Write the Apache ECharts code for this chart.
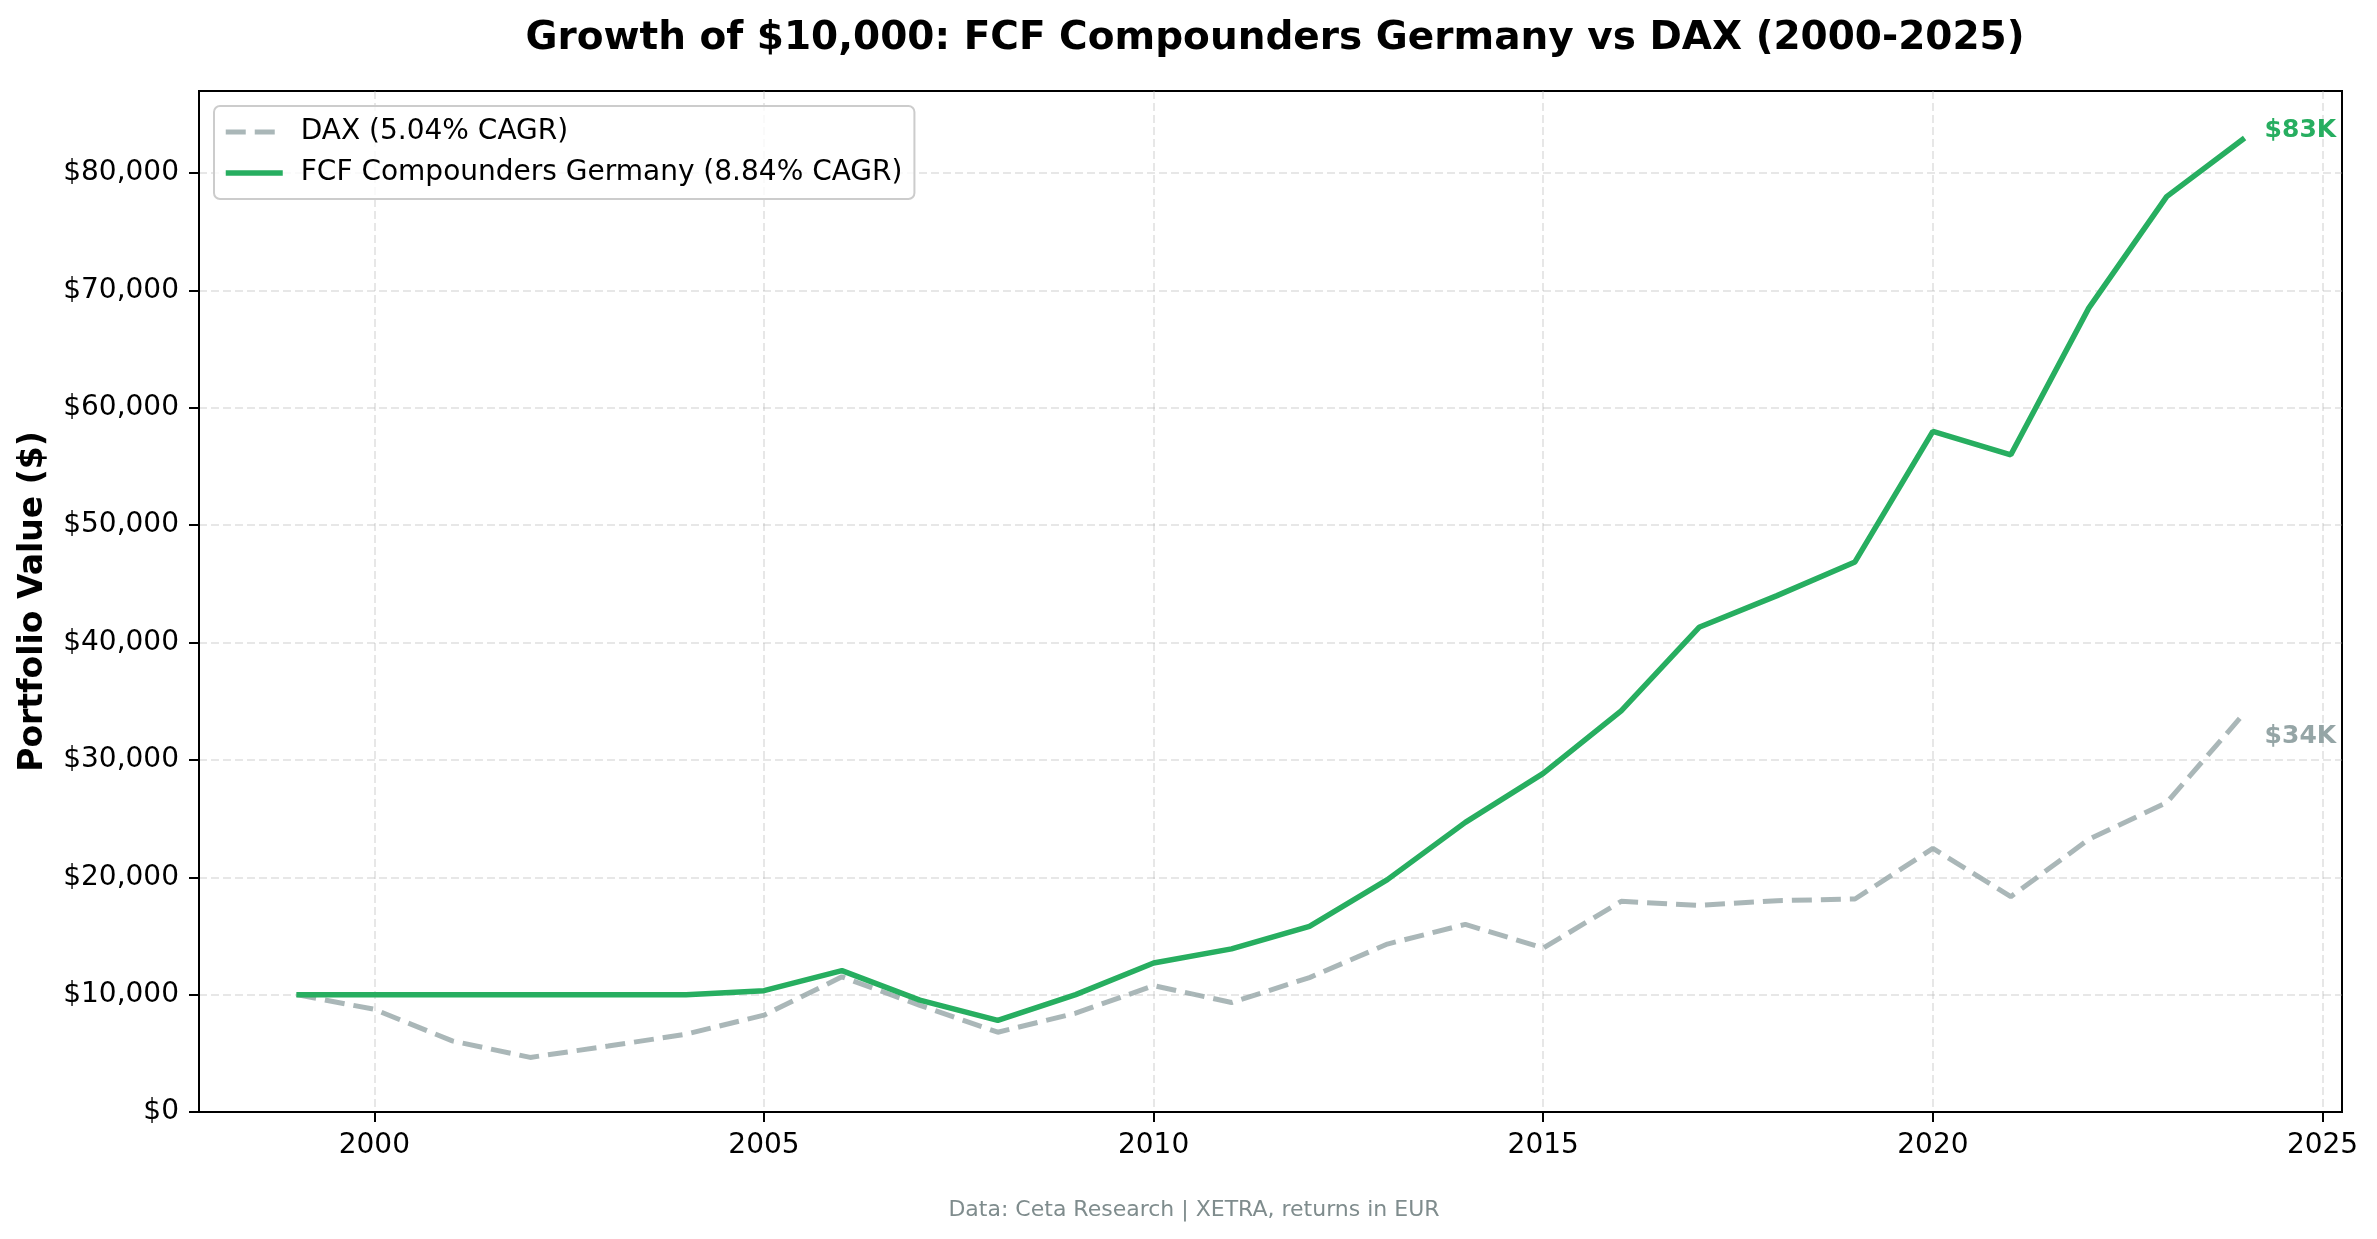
<!DOCTYPE html>
<html>
<head>
<meta charset="utf-8">
<script src="https://cdn.jsdelivr.net/npm/echarts@6/dist/echarts.min.js"></script>
<style>
  html, body { margin: 0; padding: 0; background: #fff; }
  #chart { width: 2377px; height: 1239px; }
</style>
</head>
<body>
<div id="chart"></div>
<script>
const years = [1999, 2000, 2001, 2002, 2003, 2004, 2005, 2006, 2007, 2008, 2009, 2010, 2011, 2012,
               2013, 2014, 2015, 2016, 2017, 2018, 2019, 2020, 2021, 2022, 2023, 2024];
const daxValues = [10000, 8750, 6060, 4650, 5620, 6630, 8250, 11520, 9090, 6800, 8420, 10770, 9330, 11450,
                   14310, 15990, 13970, 17950, 17610, 18010, 18150, 22460, 18350, 23230, 26360, 34010];
const fcfValues = [10000, 10000, 10000, 10000, 10000, 10000, 10340, 12050, 9530, 7810, 10000, 12690, 13900, 15820,
                   19800, 24680, 28860, 34180, 41300, 44000, 46870, 58000, 56000, 68500, 78000, 83000];
const xTicks = [2000, 2005, 2010, 2015, 2020, 2025];
const yTicks = [0, 10000, 20000, 30000, 40000, 50000, 60000, 70000, 80000];
const seriesNames = ['DAX (5.04% CAGR)', 'FCF Compounders Germany (8.84% CAGR)'];
const titleText = 'Growth of $10,000: FCF Compounders Germany vs DAX (2000-2025)';
const yAxisTitle = 'Portfolio Value ($)';
const footnote = 'Data: Ceta Research | XETRA, returns in EUR';

const FONT = 'DejaVu Sans';
const GREEN = '#27ae60';
const GRAY_LINE = 'rgba(149,165,166,0.8)';
const GRAY_LABEL = '#95a5a6';

const pairs = (vals) => years.map((y, i) => [y, vals[i]]);
const fmtK = (v) => '$' + Math.round(v / 1000) + 'K';
const fmtDollar = (v) => '$' + Number(v).toLocaleString('en-US');

const chart = echarts.init(document.getElementById('chart'), null, { renderer: 'canvas' });

const gridLine = { show: true, lineStyle: { color: 'rgba(176,176,176,0.3)', width: 2, type: [8, 4] } };

chart.setOption({
  animation: false,
  backgroundColor: '#ffffff',
  textStyle: { fontFamily: FONT },
  title: [
    {
      text: titleText,
      left: 1270, top: 14, textAlign: 'center',
      textStyle: { fontFamily: FONT, fontSize: 39, fontWeight: 'bold', color: '#000' }
    },
    {
      text: footnote,
      left: 1189, top: 1194, textAlign: 'center',
      textStyle: { fontFamily: FONT, fontSize: 22, fontWeight: 'normal', color: '#7f8c8d' }
    }
  ],
  legend: {
    left: 214, top: 106,
    orient: 'vertical',
    data: seriesNames,
    itemWidth: 57, itemHeight: 20, itemGap: 13,
    padding: [12, 12, 12, 9],
    backgroundColor: 'rgba(255,255,255,0.8)',
    borderColor: '#cccccc', borderWidth: 2, borderRadius: 6,
    itemStyle: { opacity: 0 },
    lineStyle: { width: 'inherit', type: 'inherit', color: 'inherit' },
    textStyle: { fontFamily: FONT, fontSize: 28, color: '#000', padding: [0, 0, 0, 13] }
  },
  grid: {
    left: 199, right: 35, top: 91, bottom: 127,
    show: true, borderColor: '#000', borderWidth: 2, backgroundColor: 'transparent',
    containLabel: false
  },
  xAxis: {
    type: 'value',
    min: 1997.75, max: 2025.25,
    axisLine: { show: true, lineStyle: { color: '#000', width: 2 } },
    axisTick: { show: true, length: 10, inside: false, customValues: xTicks, lineStyle: { color: '#000', width: 2 } },
    axisLabel: { customValues: xTicks, margin: 20, fontFamily: FONT, fontSize: 28, color: '#000', formatter: (v) => String(v) },
    splitLine: gridLine
  },
  yAxis: {
    type: 'value',
    min: 0, max: 87000,
    name: yAxisTitle,
    nameLocation: 'middle',
    nameGap: 149,
    nameTextStyle: { fontFamily: FONT, fontSize: 33, fontWeight: 'bold', color: '#000' },
    axisLine: { show: true, lineStyle: { color: '#000', width: 2 } },
    axisTick: { show: true, length: 10, inside: false, customValues: yTicks, lineStyle: { color: '#000', width: 2 } },
    axisLabel: { customValues: yTicks, margin: 20, fontFamily: FONT, fontSize: 28, color: '#000', formatter: fmtDollar },
    splitLine: gridLine
  },
  series: [
    {
      name: seriesNames[0],
      type: 'line',
      data: pairs(daxValues),
      showSymbol: false, symbol: 'none',
      lineStyle: { color: GRAY_LINE, width: 5, type: [20, 9] },
      itemStyle: { color: GRAY_LINE },
      endLabel: {
        show: true, distance: 20, offset: [0, 24],
        formatter: (p) => fmtK(p.value[1]),
        fontFamily: FONT, fontSize: 25, fontWeight: 'bold', color: GRAY_LABEL
      },
      z: 2
    },
    {
      name: seriesNames[1],
      type: 'line',
      data: pairs(fcfValues),
      showSymbol: false, symbol: 'none',
      lineStyle: { color: GREEN, width: 5.5, type: 'solid' },
      itemStyle: { color: GREEN },
      endLabel: {
        show: true, distance: 20, offset: [0, -7],
        formatter: (p) => fmtK(p.value[1]),
        fontFamily: FONT, fontSize: 25, fontWeight: 'bold', color: GREEN
      },
      z: 3
    }
  ]
});
</script>
</body>
</html>
